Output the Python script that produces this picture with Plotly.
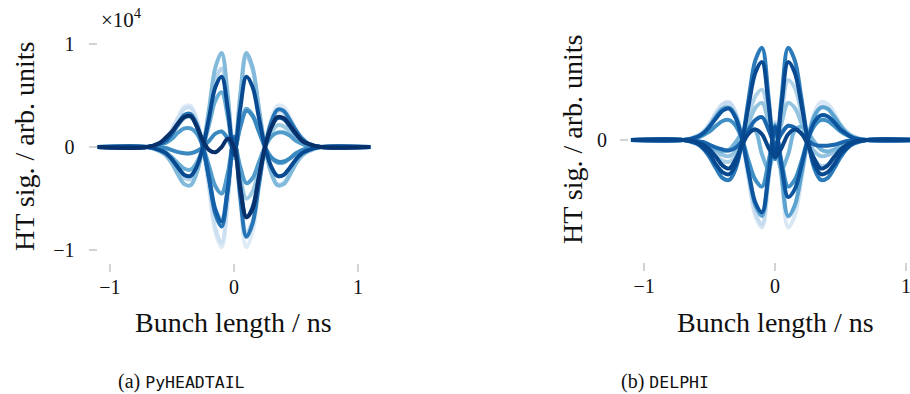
import plotly.graph_objects as go

# Bunch position (ns) sample grid shared by all traces
z_ns = [-1.1, -0.7, -0.6, -0.55, -0.5, -0.45, -0.4, -0.35, -0.3, -0.25, -0.2, -0.15, -0.1, -0.05, 0,
        0.05, 0.1, 0.15, 0.2, 0.25, 0.3, 0.35, 0.4, 0.45, 0.5, 0.55, 0.6, 0.7, 1.1]

# (a) PyHEADTAIL head-tail signal snapshots (units of 1e4)
pyht_1 = [0, 0, 0.04, 0.09, 0.17, 0.29, 0.39, 0.40, 0.27, 0, -0.41, -0.82, -0.97, -0.53, 0.12,
          -0.53, -0.97, -0.82, -0.41, 0, 0.27, 0.40, 0.39, 0.29, 0.17, 0.09, 0.04, 0, 0]
pyht_2 = [0, 0, 0.04, 0.08, 0.17, 0.28, 0.37, 0.38, 0.26, 0, -0.39, -0.79, -0.93, -0.51, 0.11,
          -0.46, -0.83, -0.71, -0.35, 0, 0.23, 0.34, 0.33, 0.25, 0.15, 0.07, 0.03, 0, 0]
pyht_3 = [0, 0, -0.03, -0.07, -0.14, -0.23, -0.30, -0.31, -0.21, 0, 0.32, 0.65, 0.76, 0.42, -0.1,
          0.48, 0.88, 0.75, 0.37, 0, -0.25, -0.36, -0.35, -0.26, -0.16, -0.08, -0.04, 0, 0]
pyht_4 = [0, 0, 0.03, 0.06, 0.13, 0.21, 0.28, 0.29, 0.20, 0, -0.29, -0.6, -0.7, -0.39, 0.07,
          -0.28, -0.5, -0.43, -0.21, 0, 0.14, 0.21, 0.20, 0.15, 0.09, 0.05, 0.02, 0, 0]
pyht_5 = [0, 0, -0.04, -0.08, -0.16, -0.27, -0.36, -0.37, -0.25, 0, 0.38, 0.77, 0.91, 0.50, -0.11,
          0.50, 0.91, 0.77, 0.38, 0, -0.25, -0.37, -0.36, -0.27, -0.16, -0.08, -0.04, 0, 0]
pyht_6 = [0, 0, -0.02, -0.05, -0.10, -0.16, -0.21, -0.22, -0.15, 0, 0.22, 0.45, 0.53, 0.29, -0.05,
          0.20, 0.37, 0.31, 0.16, 0, -0.10, -0.15, -0.15, -0.11, -0.07, -0.03, -0.01, 0, 0]
pyht_7 = [0, 0, 0.02, 0.04, 0.08, 0.14, 0.18, 0.18, 0.13, 0, -0.19, -0.38, -0.45, -0.25, 0.05,
          -0.19, -0.35, -0.30, -0.15, 0, 0.10, 0.14, 0.14, 0.11, 0.06, 0.03, 0.01, 0, 0]
pyht_8 = [0, 0, -0.01, -0.01, -0.03, -0.05, -0.06, -0.06, -0.04, 0, 0.06, 0.13, 0.15, 0.08, -0.03,
          0.19, 0.35, 0.30, 0.15, 0, -0.10, -0.14, -0.14, -0.11, -0.06, -0.03, -0.01, 0, 0]
pyht_9 = [0, 0, 0.03, 0.07, 0.14, 0.23, 0.31, 0.32, 0.22, 0, -0.32, -0.65, -0.77, -0.42, 0.1,
          -0.48, -0.87, -0.74, -0.37, 0, 0.24, 0.36, 0.35, 0.26, 0.16, 0.08, 0.03, 0, 0]
pyht_10 = [0, 0, 0.03, 0.06, 0.13, 0.22, 0.29, 0.30, 0.20, 0, -0.30, -0.61, -0.72, -0.40, 0.08,
           -0.37, -0.68, -0.58, -0.29, 0, 0.19, 0.28, 0.27, 0.20, 0.12, 0.06, 0.03, 0, 0]
pyht_11 = [0, 0, -0.03, -0.06, -0.12, -0.20, -0.27, -0.28, -0.19, 0, 0.29, 0.58, 0.68, 0.37, -0.08,
           0.37, 0.68, 0.58, 0.29, 0, -0.19, -0.28, -0.27, -0.20, -0.12, -0.06, -0.03, 0, 0]
pyht_12 = [0, 0, 0.04, 0.09, 0.15, 0.23, 0.29, 0.30, 0.20, 0.06, -0.03, -0.05, 0.0, 0.08, 0.0,
           -0.4, -0.68, -0.6, -0.3, 0, 0.19, 0.29, 0.28, 0.21, 0.13, 0.06, 0.03, 0, 0]
pyht_series = [pyht_1, pyht_2, pyht_3, pyht_4, pyht_5, pyht_6,
               pyht_7, pyht_8, pyht_9, pyht_10, pyht_11, pyht_12]
pyht_colors = ['#deebf7', '#cde0f1', '#b7d4ea', '#9ecae1', '#82badb', '#6aadd5',
               '#519ccc', '#3b89c1', '#2675b6', '#1460a8', '#084a91', '#08306b']

# (b) DELPHI head-tail signal snapshots (arbitrary units)
delphi_1 = [0, 0, 0.04, 0.09, 0.17, 0.29, 0.38, 0.40, 0.29, 0, -0.43, -0.80, -0.92, -0.43, 0.19,
            -0.43, -0.92, -0.80, -0.43, 0, 0.29, 0.40, 0.38, 0.29, 0.17, 0.09, 0.04, 0, 0]
delphi_2 = [0, 0, 0.04, 0.08, 0.17, 0.28, 0.37, 0.39, 0.28, 0, -0.41, -0.77, -0.89, -0.41, 0.18,
            -0.38, -0.81, -0.71, -0.38, 0, 0.25, 0.35, 0.34, 0.25, 0.15, 0.08, 0.03, 0, 0]
delphi_3 = [0, 0, -0.02, -0.05, -0.10, -0.17, -0.22, -0.23, -0.17, 0, 0.25, 0.46, 0.53, 0.25, -0.12,
            0.29, 0.63, 0.55, 0.29, 0, -0.20, -0.27, -0.26, -0.20, -0.12, -0.06, -0.03, 0, 0]
delphi_4 = [0, 0, -0.02, -0.04, -0.07, -0.12, -0.16, -0.17, -0.12, 0, 0.18, 0.34, 0.39, 0.18, -0.08,
            0.18, 0.39, 0.34, 0.18, 0, -0.12, -0.17, -0.16, -0.12, -0.07, -0.04, -0.02, 0, 0]
delphi_5 = [0, 0, -0.02, -0.04, -0.07, -0.1, -0.12, -0.1, -0.02, 0.08, 0.14, 0.1, -0.15, -0.3, -0.12,
            -0.3, -0.15, 0.1, 0.14, 0.08, -0.02, -0.1, -0.12, -0.1, -0.07, -0.04, -0.02, 0, 0]
delphi_6 = [0, 0, 0.03, 0.07, 0.15, 0.25, 0.33, 0.34, 0.25, 0, -0.37, -0.69, -0.80, -0.37, 0.16,
            -0.37, -0.80, -0.69, -0.37, 0, 0.25, 0.34, 0.33, 0.25, 0.15, 0.07, 0.03, 0, 0]
delphi_7 = [0, 0, 0.02, 0.05, 0.09, 0.15, 0.20, 0.21, 0.15, 0, -0.23, -0.42, -0.49, -0.23, 0.1,
            -0.23, -0.49, -0.42, -0.23, 0, 0.15, 0.21, 0.20, 0.15, 0.09, 0.05, 0.02, 0, 0]
delphi_8 = [0, 0, -0.04, -0.09, -0.18, -0.30, -0.40, -0.42, -0.30, 0, 0.45, 0.84, 0.97, 0.45, -0.2,
            0.45, 0.97, 0.84, 0.45, 0, -0.30, -0.42, -0.40, -0.30, -0.18, -0.09, -0.04, 0, 0]
delphi_9 = [0, 0, -0.01, -0.02, -0.05, -0.08, -0.10, -0.11, -0.08, 0, 0.11, 0.21, 0.24, 0.11, -0.04,
            0.07, 0.15, 0.13, 0.07, 0, -0.05, -0.06, -0.06, -0.05, -0.03, -0.01, -0.01, 0, 0]
delphi_10 = [0, 0, 0.03, 0.07, 0.14, 0.23, 0.31, 0.33, 0.23, 0, -0.35, -0.66, -0.76, -0.36, 0.14,
             -0.28, -0.60, -0.52, -0.28, 0, 0.19, 0.26, 0.25, 0.19, 0.11, 0.06, 0.02, 0, 0]
delphi_11 = [0, 0, -0.03, -0.08, -0.15, -0.26, -0.34, -0.36, -0.26, 0, 0.38, 0.71, 0.82, 0.38, -0.17,
             0.38, 0.82, 0.71, 0.38, 0, -0.26, -0.36, -0.34, -0.26, -0.15, -0.08, -0.03, 0, 0]
delphi_12 = [0, 0, -0.02, -0.05, -0.1, -0.18, -0.27, -0.3, -0.2, -0.05, 0.07, 0.11, 0.06, -0.08, -0.18,
             -0.08, 0.06, 0.11, 0.07, -0.05, -0.2, -0.3, -0.27, -0.18, -0.1, -0.05, -0.02, 0, 0]
delphi_series = [delphi_1, delphi_2, delphi_3, delphi_4, delphi_5, delphi_6,
                 delphi_7, delphi_8, delphi_9, delphi_10, delphi_11, delphi_12]
delphi_colors = ['#d9e7f5', '#c6dbef', '#b0d2e8', '#94c4df', '#77b4d9', '#5aa2cf',
                 '#4090c5', '#2b7bba', '#1b67ad', '#0d569f', '#084a91', '#08468b']

x_ticks = [-1, 0, 1]
x_tick_text = ['\u22121', '0', '1']
y_ticks_a = [-1, 0, 1]
y_tick_text_a = ['\u22121', '0', '1']
y_ticks_b = [0]
y_tick_text_b = ['0']

SERIF = 'Liberation Serif'
W, H = 910, 394

fig = go.Figure()
for ys, col in zip(pyht_series, pyht_colors):
    fig.add_trace(go.Scatter(x=z_ns, y=ys, mode='lines', xaxis='x', yaxis='y',
                             line=dict(color=col, width=4, shape='spline'),
                             showlegend=False, hoverinfo='skip'))
for ys, col in zip(delphi_series, delphi_colors):
    fig.add_trace(go.Scatter(x=z_ns, y=ys, mode='lines', xaxis='x2', yaxis='y2',
                             line=dict(color=col, width=4, shape='spline'),
                             showlegend=False, hoverinfo='skip'))


def px_x(p):
    return p / W


def px_y(p):
    return (H - p) / H


tick_font = dict(family=SERIF, size=20, color='#111111')
common_axis = dict(showgrid=False, zeroline=False, showline=False, ticks='outside',
                   ticklen=8, tickwidth=2, tickcolor='#d2d4d0', tickfont=tick_font)

fig.update_layout(
    width=W, height=H,
    margin=dict(l=0, r=0, t=0, b=0),
    paper_bgcolor='white', plot_bgcolor='white',
    xaxis=dict(domain=[px_x(97.5), px_x(370.5)], range=[-1.1, 1.1], anchor='y',
               tickvals=x_ticks, ticktext=x_tick_text, ticklabelstandoff=-2, **common_axis),
    yaxis=dict(domain=[px_y(263), px_y(30.5)], range=[-1.123, 1.128], anchor='x',
               tickvals=y_ticks_a, ticktext=y_tick_text_a, ticklabelstandoff=10, **common_axis),
    xaxis2=dict(domain=[px_x(629), 1.0], range=[-1.115, 1.03], anchor='y2',
                tickvals=x_ticks, ticktext=x_tick_text, ticklabelstandoff=-2,
                ticklabeloverflow='allow', **common_axis),
    yaxis2=dict(domain=[px_y(262), px_y(30)], range=[-1.284, 1.158], anchor='x2',
                tickvals=y_ticks_b, ticktext=y_tick_text_b, ticklabelstandoff=9, **common_axis),
)

ann = []
title_font = dict(family=SERIF, size=28, color='#111111')
ann.append(dict(x=px_x(25), y=px_y(147), xref='paper', yref='paper', text='HT sig. / arb. units',
                textangle=-90, showarrow=False, font=title_font, xanchor='center', yanchor='middle'))
ann.append(dict(x=px_x(573), y=px_y(140), xref='paper', yref='paper', text='HT sig. / arb. units',
                textangle=-90, showarrow=False, font=title_font, xanchor='center', yanchor='middle'))
ann.append(dict(x=px_x(234), y=px_y(322), xref='paper', yref='paper', text='Bunch length / ns',
                showarrow=False, font=title_font, xanchor='center', yanchor='middle'))
ann.append(dict(x=px_x(775), y=px_y(322), xref='paper', yref='paper', text='Bunch length / ns',
                showarrow=False, font=title_font, xanchor='center', yanchor='middle'))
ann.append(dict(x=px_x(99), y=px_y(18), xref='paper', yref='paper', text='\u00d710<sup>4</sup>',
                showarrow=False, font=dict(family=SERIF, size=21, color='#111111'),
                xanchor='left', yanchor='middle'))
ann.append(dict(x=px_x(181), y=px_y(381), xref='paper', yref='paper',
                text="(a) <span style='font-family:DejaVu Sans Mono;font-size:16.5px'>PyHEADTAIL</span>",
                showarrow=False, font=dict(family=SERIF, size=20, color='#111111'),
                xanchor='center', yanchor='middle'))
ann.append(dict(x=px_x(665), y=px_y(381), xref='paper', yref='paper',
                text="(b) <span style='font-family:DejaVu Sans Mono;font-size:16.5px'>DELPHI</span>",
                showarrow=False, font=dict(family=SERIF, size=20, color='#111111'),
                xanchor='center', yanchor='middle'))
fig.update_layout(annotations=ann)

fig.write_html('out.html', config={'displayModeBar': False},
               post_script="document.body.style.margin='0';")
